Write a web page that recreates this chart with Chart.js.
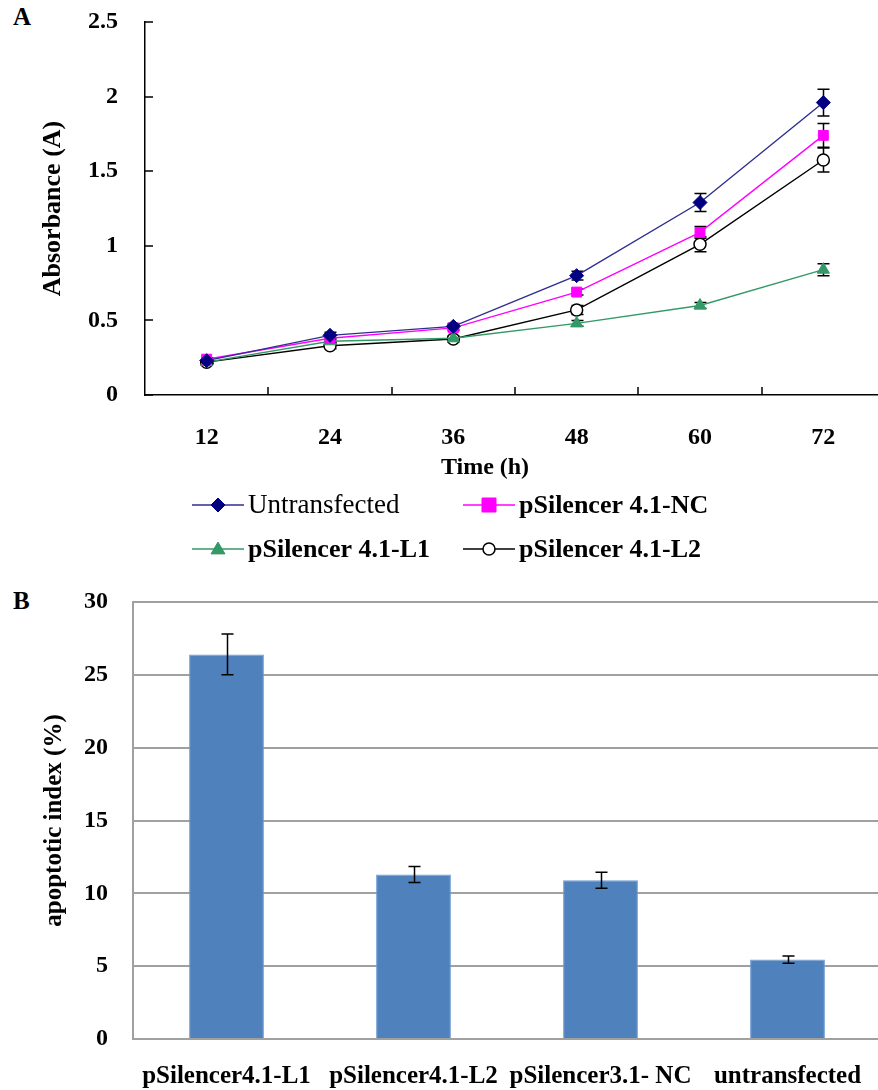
<!DOCTYPE html>
<html>
<head>
<meta charset="utf-8">
<script src="https://cdn.jsdelivr.net/npm/chart.js@4/dist/chart.umd.min.js"></script>
<style>
  html, body { margin: 0; padding: 0; background: #fff; overflow: hidden; }
  #page { position: relative; width: 878px; height: 1090px; overflow: hidden; }
  canvas { position: absolute; left: 0; }
  .panel { position: absolute; left: 13px; font: bold 25px 'Liberation Serif', 'Times New Roman', serif; line-height: 25px; color: #000; }
</style>
</head>
<body>
<div id="page">
  <div class="panel" style="top:4px">A</div>
  <canvas id="growthChart" width="900" height="580" style="top:0"></canvas>
  <div class="panel" style="top:588px">B</div>
  <canvas id="apoptosisChart" width="900" height="520" style="top:570px"></canvas>
</div>
<script>
// ---- 資料 (A: 吸光度曲線) ----
const timeLabels = ['12', '24', '36', '48', '60', '72'];
const untransfected = [0.23, 0.40, 0.46, 0.80, 1.29, 1.96];
const untransfectedErr = [0.01, 0.02, 0.02, 0.03, 0.06, 0.09];
const silencerNC = [0.24, 0.38, 0.45, 0.69, 1.09, 1.74];
const silencerNCErr = [0.01, 0.02, 0.02, 0.02, 0.04, 0.08];
const silencerL1 = [0.22, 0.36, 0.38, 0.48, 0.60, 0.84];
const silencerL1Err = [0.01, 0.01, 0.01, 0.02, 0.02, 0.04];
const silencerL2 = [0.22, 0.33, 0.375, 0.57, 1.01, 1.575];
const silencerL2Err = [0.01, 0.02, 0.02, 0.03, 0.05, 0.08];
const absorbanceTicks = [0, 0.5, 1, 1.5, 2, 2.5];

// ---- 資料 (B: 凋亡指數) ----
const groupLabels = ['pSilencer4.1-L1', 'pSilencer4.1-L2', 'pSilencer3.1- NC', 'untransfected'];
const apoptoticIndex = [26.4, 11.3, 10.9, 5.45];
const apoptoticErr = [1.4, 0.55, 0.55, 0.25];
const apoptoticTicks = [0, 5, 10, 15, 20, 25, 30];

const serif = "'Liberation Serif', 'Times New Roman', serif";

// 誤差線
function drawErrorBars(chart, opts) {
    const ctx = chart.ctx;
    const yScale = chart.scales.y;
    ctx.save();
    ctx.strokeStyle = '#000';
    ctx.lineWidth = opts.width || 1.5;
    chart.data.datasets.forEach((ds, i) => {
        if (!ds.errorBars) return;
        const meta = chart.getDatasetMeta(i);
        meta.data.forEach((el, j) => {
            const v = ds.data[j];
            const e = ds.errorBars[j];
            const x = Math.round(el.x) + 0.5;
            const top = yScale.getPixelForValue(v + e);
            const bot = yScale.getPixelForValue(v - e);
            const cap = opts.cap || 6;
            ctx.beginPath();
            ctx.moveTo(x, top); ctx.lineTo(x, bot);
            ctx.moveTo(x - cap, top); ctx.lineTo(x + cap, top);
            ctx.moveTo(x - cap, bot); ctx.lineTo(x + cap, bot);
            ctx.stroke();
        });
    });
    ctx.restore();
}

const errorBarPlugin = {
    id: 'errorBars',
    beforeDatasetsDraw(chart, args, opts) {
        if (opts.before) drawErrorBars(chart, opts);
    },
    afterDatasetsDraw(chart, args, opts) {
        if (!opts.before) drawErrorBars(chart, opts);
    }
};

// 內側刻度線 (A)
const inwardTicksPlugin = {
    id: 'inwardTicks',
    afterDraw(chart, args, opts) {
        const ctx = chart.ctx;
        const xs = chart.scales.x, ys = chart.scales.y;
        const len = opts.length || 8;
        const area = chart.chartArea;
        ctx.save();
        ctx.strokeStyle = '#000';
        ctx.lineWidth = 1.5;
        ctx.beginPath();
        const n = xs.ticks.length;
        const half = (xs.getPixelForTick(1) - xs.getPixelForTick(0)) / 2;
        for (let i = 0; i < n; i++) {
            const px = Math.round(xs.getPixelForTick(i) + half);
            ctx.moveTo(px, area.bottom);
            ctx.lineTo(px, area.bottom - len);
        }
        ys.ticks.forEach((t, i) => {
            const py = Math.round(ys.getPixelForTick(i));
            ctx.moveTo(area.left, py);
            ctx.lineTo(area.left + len, py);
        });
        ctx.stroke();
        ctx.restore();
    }
};

function drawMarker(ctx, style, r, x, y) {
    if (style === 'rectRot') {
        ctx.moveTo(x, y - r); ctx.lineTo(x + r, y); ctx.lineTo(x, y + r); ctx.lineTo(x - r, y); ctx.closePath();
    } else if (style === 'rect') {
        ctx.rect(x - r, y - r, 2 * r, 2 * r);
    } else if (style === 'triangle') {
        ctx.moveTo(x, y - r); ctx.lineTo(x + r, y + r * 0.7); ctx.lineTo(x - r, y + r * 0.7); ctx.closePath();
    } else {
        ctx.arc(x, y, r, 0, Math.PI * 2);
    }
}

// 圖例與 X 軸標題 (A)
const customLegendPlugin = {
    id: 'customLegend',
    afterDraw(chart, args, opts) {
        const ctx = chart.ctx;
        ctx.save();
        ctx.fillStyle = '#000';
        ctx.textAlign = 'center';
        ctx.textBaseline = 'middle';
        ctx.font = 'bold 24px ' + serif;
        ctx.fillText(opts.xTitle.text, opts.xTitle.x, opts.xTitle.y);

        opts.spots.forEach((spot, i) => {
            const ds = chart.data.datasets[i];
            ctx.strokeStyle = ds.borderColor;
            ctx.lineWidth = 1.5;
            ctx.beginPath();
            ctx.moveTo(spot.x, spot.y);
            ctx.lineTo(spot.x + 52, spot.y);
            ctx.stroke();
            ctx.fillStyle = ds.pointBackgroundColor;
            ctx.strokeStyle = ds.pointBorderColor;
            ctx.lineWidth = ds.pointBorderWidth;
            ctx.beginPath();
            drawMarker(ctx, ds.pointStyle, ds.pointRadius, spot.x + 26, spot.y);
            ctx.fill();
            ctx.stroke();
            ctx.fillStyle = '#000';
            ctx.textAlign = 'left';
            ctx.font = spot.bold ? 'bold 26px ' + serif : '27px ' + serif;
            ctx.fillText(ds.label, spot.x + 56, spot.y + 1);
        });
        ctx.restore();
    }
};

const noPad = s => { s.paddingTop = 0; s.paddingBottom = 0; };

new Chart(document.getElementById('growthChart'), {
    type: 'line',
    data: {
        labels: timeLabels,
        datasets: [
            {
                label: 'Untransfected',
                data: untransfected,
                errorBars: untransfectedErr,
                borderColor: '#2e2e92',
                borderWidth: 1.4,
                pointStyle: 'rectRot',
                pointRadius: 7,
                pointBackgroundColor: '#000080',
                pointBorderColor: '#000080',
                pointBorderWidth: 1
            },
            {
                label: 'pSilencer 4.1-NC',
                data: silencerNC,
                errorBars: silencerNCErr,
                borderColor: '#ff00ff',
                borderWidth: 1.4,
                pointStyle: 'rect',
                pointRadius: 7,
                pointBackgroundColor: '#ff00ff',
                pointBorderColor: '#ff00ff',
                pointBorderWidth: 1
            },
            {
                label: 'pSilencer 4.1-L1',
                data: silencerL1,
                errorBars: silencerL1Err,
                borderColor: '#339966',
                borderWidth: 1.4,
                pointStyle: 'triangle',
                pointRadius: 7,
                pointBackgroundColor: '#339966',
                pointBorderColor: '#339966',
                pointBorderWidth: 1
            },
            {
                label: 'pSilencer 4.1-L2',
                data: silencerL2,
                errorBars: silencerL2Err,
                borderColor: '#000000',
                borderWidth: 1.4,
                pointStyle: 'circle',
                pointRadius: 6,
                pointBackgroundColor: '#ffffff',
                pointBorderColor: '#000000',
                pointBorderWidth: 1.5
            }
        ]
    },
    options: {
        responsive: false,
        animation: false,
        devicePixelRatio: 1,
        layout: { padding: { top: 22, right: 15, left: 0, bottom: 0 } },
        plugins: {
            legend: { display: false },
            tooltip: { enabled: false },
            errorBars: { before: true, cap: 6, width: 1.5 },
            inwardTicks: { length: 8 },
            customLegend: {
                xTitle: { text: 'Time (h)', x: 485, y: 468 },
                spots: [
                    { x: 192, y: 505, bold: false },
                    { x: 463, y: 505, bold: true },
                    { x: 192, y: 549, bold: true },
                    { x: 463, y: 549, bold: true }
                ]
            }
        },
        scales: {
            x: {
                offset: true,
                grid: { display: false },
                border: { display: true, color: '#000', width: 1.5 },
                ticks: { color: '#000', font: { family: serif, size: 24, weight: 'bold' }, padding: 20, maxRotation: 0 },
                afterFit: s => { s.height = 185; s.paddingLeft = 0; s.paddingRight = 0; }
            },
            y: {
                min: 0,
                max: 2.5,
                afterBuildTicks: s => { s.ticks = absorbanceTicks.map(v => ({ value: v })); },
                grid: { display: false },
                border: { display: true, color: '#000', width: 1.5 },
                ticks: { color: '#000', font: { family: serif, size: 24, weight: 'bold' }, padding: 19, callback: v => String(v) },
                title: {
                    display: true,
                    text: 'Absorbance (A)',
                    color: '#000',
                    font: { family: serif, size: 26, weight: 'bold' },
                    padding: { top: 38, bottom: 0 }
                },
                afterFit: s => { s.width = 145; noPad(s); }
            }
        }
    },
    plugins: [errorBarPlugin, inwardTicksPlugin, customLegendPlugin]
});

new Chart(document.getElementById('apoptosisChart'), {
    type: 'bar',
    data: {
        labels: groupLabels,
        datasets: [{
            label: 'apoptotic index',
            data: apoptoticIndex,
            errorBars: apoptoticErr,
            backgroundColor: '#4f81bd',
            borderColor: '#6f9bd0',
            borderWidth: 1,
            categoryPercentage: 1,
            barPercentage: 0.4
        }]
    },
    options: {
        responsive: false,
        animation: false,
        devicePixelRatio: 1,
        layout: { padding: { top: 32, right: 19, left: 0, bottom: 0 } },
        plugins: {
            legend: { display: false },
            tooltip: { enabled: false },
            errorBars: { before: false, cap: 6, width: 1.5 }
        },
        scales: {
            x: {
                grid: { display: false },
                border: { display: true, color: '#a0a0a0', width: 2 },
                ticks: { color: '#000', font: { family: serif, size: 25, weight: 'bold' }, padding: 15, maxRotation: 0, autoSkip: false },
                afterFit: s => { s.height = 51; s.paddingLeft = 0; s.paddingRight = 0; }
            },
            y: {
                min: 0,
                max: 30,
                afterBuildTicks: s => { s.ticks = apoptoticTicks.map(v => ({ value: v })); },
                grid: { color: '#a0a0a0', lineWidth: 2, drawTicks: false },
                border: { display: true, color: '#a0a0a0', width: 2 },
                ticks: { color: '#000', font: { family: serif, size: 24, weight: 'bold' }, padding: 25 },
                title: {
                    display: true,
                    text: 'apoptotic index (%)',
                    color: '#000',
                    font: { family: serif, size: 25, weight: 'bold' },
                    padding: { top: 40, bottom: 0 }
                },
                afterFit: s => { s.width = 133; noPad(s); }
            }
        }
    },
    plugins: [errorBarPlugin]
});
</script>
</body>
</html>
